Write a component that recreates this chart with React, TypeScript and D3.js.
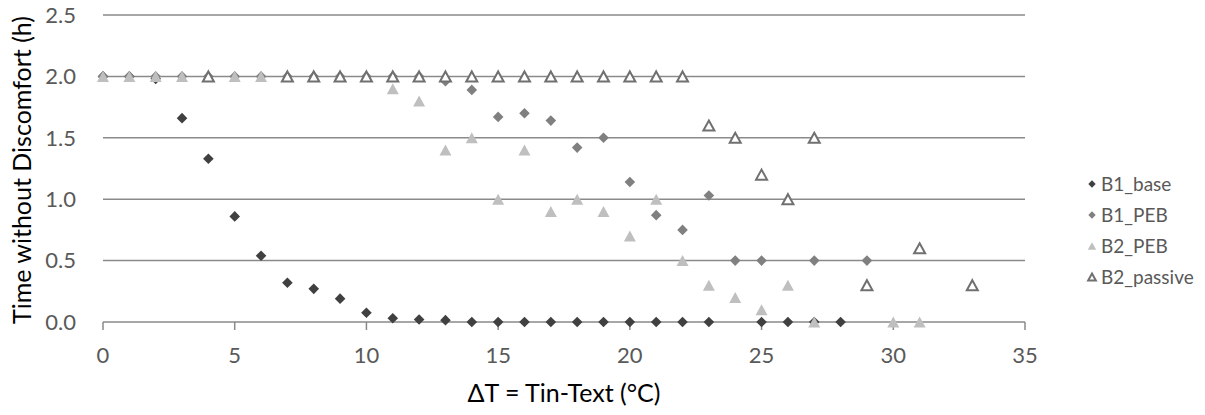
import React from "react";
import * as d3 from "d3";

const W = 1205;
const H = 415;

const xTicks = [0, 5, 10, 15, 20, 25, 30, 35];
const yTicks = [0, 0.5, 1.0, 1.5, 2.0, 2.5];

const b1BaseX = [0, 1, 2, 3, 4, 5, 6, 7, 8, 9, 10, 11, 12, 13, 14, 15, 16, 17, 18, 19, 20, 21, 22, 23, 25, 26, 27, 28];
const b1BaseY = [2.0, 2.0, 1.98, 1.66, 1.33, 0.86, 0.54, 0.32, 0.27, 0.19, 0.075, 0.03, 0.02, 0.015, 0, 0, 0, 0, 0, 0, 0, 0, 0, 0, 0, 0, 0, 0];

const b1PebX = [0, 1, 2, 3, 4, 5, 6, 7, 8, 9, 10, 11, 12, 13, 14, 15, 16, 17, 18, 19, 20, 21, 22, 23, 24, 25, 27, 29];
const b1PebY = [2.0, 2.0, 2.0, 2.0, 2.0, 2.0, 2.0, 2.0, 2.0, 2.0, 2.0, 2.0, 2.0, 1.96, 1.89, 1.67, 1.70, 1.64, 1.42, 1.50, 1.14, 0.87, 0.75, 1.03, 0.5, 0.5, 0.5, 0.5];

const b2PebX = [0, 1, 2, 3, 4, 5, 6, 7, 8, 9, 10, 11, 12, 13, 14, 15, 16, 17, 18, 19, 20, 21, 22, 23, 24, 25, 26, 27, 30, 31];
const b2PebY = [2.0, 2.0, 2.0, 2.0, 2.0, 2.0, 2.0, 2.0, 2.0, 2.0, 2.0, 1.9, 1.8, 1.4, 1.5, 1.0, 1.4, 0.9, 1.0, 0.9, 0.7, 1.0, 0.5, 0.3, 0.2, 0.1, 0.3, 0.0, 0.0, 0.0];

const b2PassiveX = [4, 7, 8, 9, 10, 11, 12, 13, 14, 15, 16, 17, 18, 19, 20, 21, 22, 23, 24, 25, 26, 27, 29, 31, 33];
const b2PassiveY = [2.0, 2.0, 2.0, 2.0, 2.0, 2.0, 2.0, 2.0, 2.0, 2.0, 2.0, 2.0, 2.0, 2.0, 2.0, 2.0, 2.0, 1.6, 1.5, 1.2, 1.0, 1.5, 0.3, 0.6, 0.3];

const seriesNames = ["B1_base", "B1_PEB", "B2_PEB", "B2_passive"];

const FONT = "Lato, 'Open Sans', sans-serif";
const TEXT = "#595959";
const GRID = "#8a8a8a";

const x = d3.scaleLinear().domain([0, 35]).range([103, 1025]);
const y = d3.scaleLinear().domain([0, 2.5]).range([322, 15]);

function diamond(cx: number, cy: number, r: number) {
  return `M${cx},${cy - r}L${cx + r},${cy}L${cx},${cy + r}L${cx - r},${cy}Z`;
}
function triangle(cx: number, cy: number, w: number, h: number) {
  return `M${cx},${cy - h / 2}L${cx + w / 2},${cy + h / 2}L${cx - w / 2},${cy + h / 2}Z`;
}

type Kind = "diamond" | "tri" | "hollow";
const styles: { kind: Kind; fill: string; stroke: string }[] = [
  { kind: "diamond", fill: "#404040", stroke: "none" },
  { kind: "diamond", fill: "#808080", stroke: "none" },
  { kind: "tri", fill: "#bfbfbf", stroke: "none" },
  { kind: "hollow", fill: "#ffffff", stroke: "#707070" },
];

function marker(kind: Kind, cx: number, cy: number, scale = 1, key?: any, fill?: string, stroke?: string) {
  if (kind === "diamond") {
    return <path key={key} d={diamond(cx, cy, 5.3 * scale)} fill={fill} />;
  }
  if (kind === "tri") {
    return <path key={key} d={triangle(cx, cy, 12 * scale, 11 * scale)} fill={fill} />;
  }
  return (
    <path key={key} d={triangle(cx, cy, 11 * scale, 10 * scale)} fill={fill} stroke={stroke} strokeWidth={2} strokeLinejoin="miter" />
  );
}

export default function App() {
  const data = [
    { xs: b1BaseX, ys: b1BaseY },
    { xs: b1PebX, ys: b1PebY },
    { xs: b2PebX, ys: b2PebY },
    { xs: b2PassiveX, ys: b2PassiveY },
  ];
  const legendY = [184, 215, 246, 277];
  return (
    <svg width={W} height={H} style={{ display: "block", position: "absolute", left: 0, top: 0 }}>
      <rect width={W} height={H} fill="#ffffff" />
      {yTicks.filter((t) => t > 0).map((t) => (
        <line key={t} x1={x(0)} x2={x(35)} y1={y(t)} y2={y(t)} stroke={GRID} strokeWidth={1.5} />
      ))}
      <line x1={x(0)} x2={x(35)} y1={y(0)} y2={y(0)} stroke={GRID} strokeWidth={1.5} />
      {xTicks.map((t) => (
        <line key={t} x1={x(t)} x2={x(t)} y1={y(0)} y2={y(0) + 8} stroke={GRID} strokeWidth={1.5} />
      ))}
      {yTicks.map((t) => (
        <text key={t} x={76} y={y(t)} dy="0.35em" textAnchor="end" fontFamily={FONT} fontSize={22} fill={TEXT}>
          {t.toFixed(1)}
        </text>
      ))}
      {xTicks.map((t) => (
        <text key={t} x={x(t)} y={355} dy="0.35em" textAnchor="middle" fontFamily={FONT} fontSize={22} fill={TEXT}>
          {t}
        </text>
      ))}
      <text x={564} y={393} dy="0.35em" textAnchor="middle" fontFamily={FONT} fontSize={25} fill="#000">
        ΔT = Tin-Text (°C)
      </text>
      <text transform={`translate(22,170) rotate(-90)`} dy="0.35em" textAnchor="middle" fontFamily={FONT} fontSize={25} fill="#000">
        Time without Discomfort (h)
      </text>
      {data.map((s, si) => (
        <g key={si}>
          {s.xs.map((xv, i) => marker(styles[si].kind, x(xv), y(s.ys[i]), 1, i, styles[si].fill, styles[si].stroke))}
        </g>
      ))}
      {seriesNames.map((n, i) => (
        <g key={n}>
          {marker(styles[i].kind, 1092, legendY[i], 0.7, undefined, styles[i].fill, styles[i].stroke)}
          <text x={1101} y={legendY[i]} dy="0.35em" fontFamily={FONT} fontSize={19} fill={TEXT}>
            {n}
          </text>
        </g>
      ))}
    </svg>
  );
}
